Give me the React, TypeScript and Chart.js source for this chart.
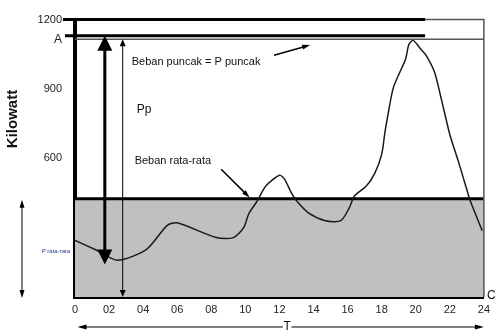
import React, { useEffect, useRef } from 'react';
import { Chart, registerables } from 'chart.js';

Chart.register(...registerables);

// Load curve (hour of day, kilowatt)
const hours = [0, 1.3, 2.5, 4.2, 5.4, 6.0, 8.3, 9.3, 9.9, 10.2, 10.7, 11.2, 12.0, 12.3, 12.7, 13.0, 13.7, 14.7, 15.6, 16.1, 16.4, 17.1, 17.6, 18.0, 18.2, 18.4, 18.7, 19.4, 19.6, 19.85, 20.3, 20.6, 21.1, 21.5, 22.0, 22.5, 22.9, 23.2, 23.9];
const loadKW = [245, 201, 159, 206, 309, 321, 257, 257, 300, 360, 416, 480, 527, 510, 450, 416, 364, 330, 330, 386, 437, 480, 536, 617, 716, 801, 909, 1029, 1093, 1110, 1072, 1046, 973, 857, 703, 587, 489, 416, 287];

const averageKW = 425;
const peakKW = 1115; // level "A"
const peakBarKW = 1130;
const maxKW = 1200;
const topBarEndHour = 20.55;

const yTickValues = [600, 900, peakKW, maxKW];
const xTickHours = [0, 2, 4, 6, 8, 10, 12, 14, 16, 18, 20, 22, 24];
const xTickLabels = ['0', '02', '04', '06', '08', '10', '12', '14', '16', '18', '20', '22', '24'];

const FONT = "'Liberation Sans', Arial, sans-serif";

function arrowHead(ctx: CanvasRenderingContext2D, x1: number, y1: number, x2: number, y2: number, len: number, w: number) {
  const a = Math.atan2(y2 - y1, x2 - x1);
  const bx = x2 - len * Math.cos(a);
  const by = y2 - len * Math.sin(a);
  const nx = -Math.sin(a) * w / 2;
  const ny = Math.cos(a) * w / 2;
  ctx.beginPath();
  ctx.moveTo(x2, y2);
  ctx.lineTo(bx + nx, by + ny);
  ctx.lineTo(bx - nx, by - ny);
  ctx.closePath();
  ctx.fill();
}

function arrow(ctx: CanvasRenderingContext2D, x1: number, y1: number, x2: number, y2: number, lw: number, len: number, w: number, both: boolean) {
  const a = Math.atan2(y2 - y1, x2 - x1);
  const sx = both ? x1 + (len - 1) * Math.cos(a) : x1;
  const sy = both ? y1 + (len - 1) * Math.sin(a) : y1;
  const ex = x2 - (len - 1) * Math.cos(a);
  const ey = y2 - (len - 1) * Math.sin(a);
  ctx.lineWidth = lw;
  ctx.beginPath();
  ctx.moveTo(sx, sy);
  ctx.lineTo(ex, ey);
  ctx.stroke();
  arrowHead(ctx, x1, y1, x2, y2, len, w);
  if (both) arrowHead(ctx, x2, y2, x1, y1, len, w);
}

const annotations = {
  id: 'annotations',
  afterDatasetsDraw(chart: any) {
    const ctx: CanvasRenderingContext2D = chart.ctx;
    const xs = chart.scales.x;
    const ys = chart.scales.y;
    const area = chart.chartArea;
    const X = (v: number) => xs.getPixelForValue(v);
    const Y = (v: number) => ys.getPixelForValue(v);
    ctx.save();
    ctx.strokeStyle = '#000';
    ctx.fillStyle = '#000';

    // thin frame lines
    ctx.strokeStyle = '#555';
    ctx.lineWidth = 1.5;
    ctx.beginPath();
    ctx.moveTo(X(topBarEndHour), Y(maxKW));
    ctx.lineTo(area.right, Y(maxKW));
    ctx.lineTo(area.right, area.bottom);
    ctx.moveTo(area.left, Y(peakKW));
    ctx.lineTo(area.right, Y(peakKW));
    ctx.stroke();

    // thick top lines
    ctx.strokeStyle = '#000';
    ctx.lineWidth = 3;
    ctx.beginPath();
    ctx.moveTo(area.left - 12, Y(maxKW));
    ctx.lineTo(X(topBarEndHour), Y(maxKW));
    ctx.moveTo(area.left - 10, Y(peakBarKW));
    ctx.lineTo(X(topBarEndHour), Y(peakBarKW));
    ctx.stroke();

    // big double arrow
    arrow(ctx, X(1.75), Y(peakBarKW), X(1.75), Y(141), 3, 15, 15, true);
    // thin double arrow (Pp)
    arrow(ctx, X(2.8), Y(peakKW), X(2.8), Y(0), 1, 7, 6, true);
    // left arrow (P rata-rata)
    arrow(ctx, area.left - 53, Y(averageKW) + 1, area.left - 53, Y(0) + 1, 1, 8, 5, true);
    // T arrow
    const ty = area.bottom + 30;
    arrow(ctx, X(12.2), ty, X(0.15), ty, 1, 9, 5, false);
    arrow(ctx, X(12.7), ty, X(24), ty, 1, 9, 5, false);

    // pointer arrows
    arrow(ctx, X(11.68), Y(1046), X(13.8), Y(1090), 1.5, 8, 5, false);
    arrow(ctx, X(8.58), Y(553), X(10.25), Y(430), 1.5, 8, 5, false);

    ctx.fillStyle = '#111';
    ctx.textBaseline = 'middle';
    ctx.textAlign = 'left';
    ctx.font = `11px ${FONT}`;
    ctx.fillText('Beban puncak = P puncak', X(3.33), Y(1016));
    ctx.fillText('Beban rata-rata', X(3.5), Y(587));
    ctx.font = `12px ${FONT}`;
    ctx.fillText('Pp', X(3.62), Y(810));
    ctx.fillText('C', area.right + 3, area.bottom - 1);
    ctx.textAlign = 'center';
    ctx.fillText('T', X(12.45), ty);

    ctx.fillStyle = '#2a3a8a';
    ctx.textAlign = 'right';
    ctx.font = `6px ${FONT}`;
    ctx.fillText('P rata-rata', area.left - 5, Y(197));

    ctx.fillStyle = '#111';
    ctx.translate(13, Y(770));
    ctx.rotate(-Math.PI / 2);
    ctx.textAlign = 'center';
    ctx.font = `bold 15px ${FONT}`;
    ctx.fillText('Kilowatt', 0, 0);
    ctx.restore();
  },
};

export default function App() {
  const ref = useRef<HTMLCanvasElement>(null);
  useEffect(() => {
    if (!ref.current) return;
    const chart = new Chart(ref.current, {
      type: 'line',
      data: {
        datasets: [
          {
            label: 'Beban',
            data: hours.map((h, i) => ({ x: h, y: loadKW[i] })),
            borderColor: '#1a1a1a',
            borderWidth: 1.5,
            pointRadius: 0,
            tension: 0.25,
            fill: false,
          },
          {
            label: 'Beban rata-rata',
            data: [{ x: 0, y: averageKW }, { x: 24, y: averageKW }],
            borderColor: '#000',
            borderWidth: 3,
            backgroundColor: '#c0c0c0',
            pointRadius: 0,
            fill: 'origin',
          },
        ],
      },
      options: {
        animation: false,
        responsive: false,
        maintainAspectRatio: false,
        layout: { padding: { left: 0, right: 10, top: 17, bottom: 0 } },
        plugins: { legend: { display: false }, tooltip: { enabled: false } },
        scales: {
          x: {
            type: 'linear',
            min: 0,
            max: 24,
            grid: { display: false, drawTicks: false },
            border: { display: true, width: 4, color: '#000' },
            afterBuildTicks: (s: any) => { s.ticks = xTickHours.map((v) => ({ value: v })); },
            afterFit: (s: any) => { s.height = 37; },
            ticks: {
              padding: 6,
              autoSkip: false,
              maxRotation: 0,
              color: '#222',
              font: { family: FONT, size: 11 },
              callback: (v: any) => xTickLabels[xTickHours.indexOf(Number(v))] ?? '',
            },
          },
          y: {
            type: 'linear',
            min: 0,
            max: maxKW,
            grid: { display: false, drawTicks: false },
            border: { display: true, width: 4, color: '#000' },
            afterBuildTicks: (s: any) => { s.ticks = yTickValues.map((v) => ({ value: v })); },
            afterFit: (s: any) => { s.width = 75; },
            ticks: {
              padding: 13,
              autoSkip: false,
              color: '#222',
              font: (c: any) => ({ family: FONT, size: c.tick && c.tick.value === peakKW ? 12 : 11 }),
              callback: (v: any) => (Number(v) === peakKW ? 'A' : String(v)),
            },
          },
        },
      },
      plugins: [annotations],
    });
    return () => chart.destroy();
  }, []);
  return (
    <div style={{ position: 'absolute', left: 0, top: 0, width: 496, height: 334, background: '#fff' }}>
      <canvas ref={ref} width={496} height={334} style={{ display: 'block', width: 496, height: 334 }} />
    </div>
  );
}
